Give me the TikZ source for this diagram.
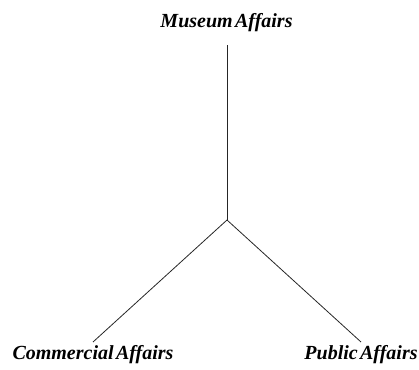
\documentclass[tikz,border=0pt]{standalone}
\usepackage{fontspec}
\setmainfont{Liberation Serif}
\newcommand\branchlabelfont{\fontsize{20}{22}\selectfont\bfseries\itshape}
\newcommand\tightspaces{\spaceskip=0.12em\relax}
\begin{document}
\begin{tikzpicture}[x=1pt,y=-1pt,
  label/.style={font=\branchlabelfont, inner sep=0pt, anchor=base},
  branch/.style={line width=0.8pt, draw=black!85}]
\useasboundingbox (0,0) rectangle (419,369);
% labels
\node[label] (museum) at (226.5,28) {\tightspaces Museum Affairs};
\node[label] (commercial) at (93,359) {\tightspaces Commercial Affairs};
\node[label] (public) at (361,359) {\tightspaces Public Affairs};
% branch points
\coordinate (hub) at (227,220);
\coordinate (top) at (227,45);
\coordinate (left) at (93,342);
\coordinate (right) at (361,342);
% tree
\draw[branch] (top) -- (hub);
\draw[branch] (hub) -- (left);
\draw[branch] (hub) -- (right);
\end{tikzpicture}
\end{document}
